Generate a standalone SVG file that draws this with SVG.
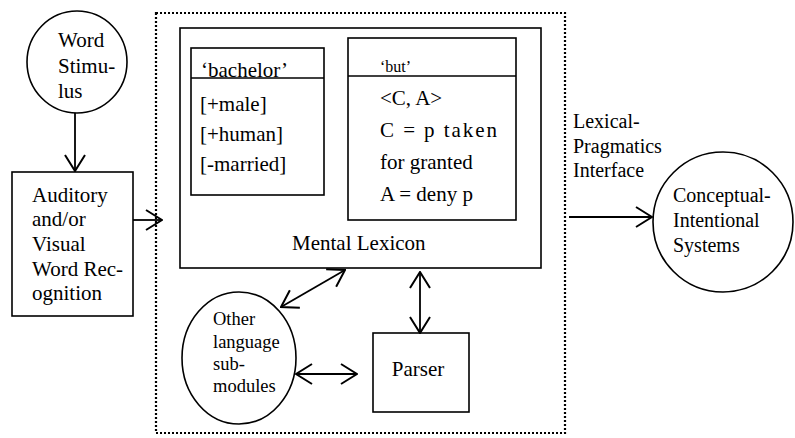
<svg xmlns="http://www.w3.org/2000/svg" width="795" height="438" viewBox="0 0 795 438">
<defs>
<style>
.s{fill:none;stroke:#000;stroke-width:1.6}
.t{font-family:'Liberation Serif','DejaVu Serif',serif;font-size:21px;fill:#000}
.c{stroke:#000;stroke-width:1.8;fill:none}
</style>
<marker id="ah" viewBox="0 0 18 22" refX="17" refY="11" markerWidth="18" markerHeight="22" orient="auto-start-reverse" markerUnits="userSpaceOnUse">
<path d="M1,1 L17,11 L1,21" fill="none" stroke="#000" stroke-width="2"/>
</marker>
</defs>
<rect width="795" height="438" fill="#fff"/>
<g id="module">
<rect x="156" y="13" width="409" height="420" fill="none" stroke="#000" stroke-width="2.2" stroke-dasharray="2,2"/>
</g>
<g font-family="Liberation Serif, serif">
<g id="word-stimulus">
<ellipse class="s" cx="77" cy="62" rx="50" ry="51"/>
<text class="t" x="58" y="47">Word</text>
<text class="t" x="58" y="73">Stimu-</text>
<text class="t" x="58" y="98">lus</text>
</g>
<g id="recognition">
<rect class="s" x="12" y="172" width="121" height="144"/>
<text class="t" x="32" y="202">Auditory</text>
<text class="t" x="32" y="226">and/or</text>
<text class="t" x="32" y="251">Visual</text>
<text class="t" x="32" y="276">Word Rec-</text>
<text class="t" x="32" y="300">ognition</text>
</g>
<g id="mental-lexicon">
<rect class="s" x="180" y="28" width="361" height="240"/>
<text class="t" x="292" y="250">Mental Lexicon</text>
</g>
<g id="bachelor">
<rect class="s" x="191" y="48" width="133" height="147"/>
<line class="s" x1="191" y1="78" x2="324" y2="78"/>
<text class="t" x="201" y="77">‘bachelor’</text>
<text class="t" x="200" y="111">[+male]</text>
<text class="t" x="200" y="141">[+human]</text>
<text class="t" x="200" y="171">[-married]</text>
</g>
<g id="but">
<rect class="s" x="348" y="38" width="168" height="182"/>
<line class="s" x1="348" y1="76" x2="516" y2="76"/>
<text class="t" x="380" y="72" style="font-size:16px">‘but’</text>
<text class="t" x="380" y="105">&lt;C, A&gt;</text>
<text class="t" x="380" y="137" textLength="117" lengthAdjust="spacing">C = p taken</text>
<text class="t" x="380" y="169">for granted</text>
<text class="t" x="380" y="201">A = deny p</text>
</g>
<g id="other-modules">
<ellipse class="s" cx="239" cy="358" rx="57" ry="66"/>
<text class="t" x="213" y="325" style="font-size:18.5px">Other</text>
<text class="t" x="213" y="348" style="font-size:18.5px">language</text>
<text class="t" x="213" y="370" style="font-size:18.5px">sub-</text>
<text class="t" x="213" y="392" style="font-size:18.5px">modules</text>
</g>
<g id="parser">
<rect class="s" x="373" y="333" width="96" height="79"/>
<text class="t" x="418" y="376" text-anchor="middle">Parser</text>
</g>
<g id="interface-label">
<text class="t" x="573" y="128" style="font-size:20px">Lexical-</text>
<text class="t" x="573" y="153" style="font-size:20px">Pragmatics</text>
<text class="t" x="573" y="177" style="font-size:20px">Interface</text>
</g>
<g id="conceptual">
<ellipse class="s" cx="723" cy="222" rx="70" ry="70"/>
<text class="t" x="673" y="202" style="font-size:20px">Conceptual-</text>
<text class="t" x="673" y="227" style="font-size:20px">Intentional</text>
<text class="t" x="673" y="252" style="font-size:20px">Systems</text>
</g>
</g>
<g id="connectors">
<line class="c" x1="75" y1="113" x2="75" y2="171" marker-end="url(#ah)"/>
<line class="c" x1="133" y1="220" x2="162" y2="220" marker-end="url(#ah)"/>
<line class="c" x1="281" y1="307" x2="345" y2="270" marker-start="url(#ah)" marker-end="url(#ah)"/>
<line class="c" x1="420" y1="272" x2="420" y2="333" stroke-width="2.4" marker-start="url(#ah)" marker-end="url(#ah)"/>
<line class="c" x1="296" y1="374" x2="357" y2="374" marker-start="url(#ah)" marker-end="url(#ah)"/>
<line class="c" x1="569" y1="217" x2="652" y2="217" stroke-width="2.2" marker-end="url(#ah)"/>
</g>
</svg>
